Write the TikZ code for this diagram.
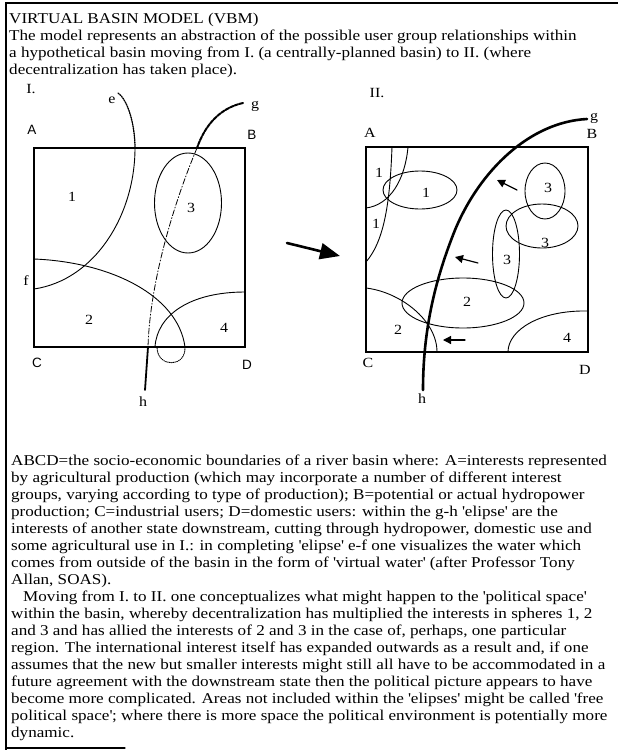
\documentclass[tikz,border=0pt]{standalone}
\usepackage{fontspec}
\setmainfont{Liberation Serif}[FakeStretch=1.14]
\newfontfamily\lblsans{Liberation Sans}
\usetikzlibrary{arrows.meta,shapes.geometric,positioning}
\newcommand{\qt}{\textquotesingle}

\begin{document}
\begin{tikzpicture}[x=1pt,y=-1pt,line cap=round,
    basin/.style={draw,line width=1.2pt,inner sep=0pt,outer sep=0pt},
    sphere/.style={draw,ellipse,line width=0.9pt,inner sep=0pt},
    boundary/.style={line width=0.9pt},
    river/.style={line width=2.6pt},
    shift arrow/.style={line width=1.2pt,-{Triangle[length=8pt,width=8pt]}},
    move arrow/.style={line width=2.6pt,-{Triangle[length=20pt,width=16pt]}},
    corner/.style={font=\lblsans\fontsize{13.5}{13.5}\selectfont},
    serif corner/.style={font=\fontsize{14}{14}\selectfont},
    number/.style={font=\fontsize{14}{14}\selectfont},
    body/.style={align=left,inner sep=0pt,font=\fontsize{15}{17}\selectfont}]

\useasboundingbox (0,0) rectangle (618,750);

% frame of the page
\draw[line width=1.2pt] (6,750) -- (6,3) -- (618,3);
\draw[line width=1.2pt] (6,748) -- (125,748);

\node[body,anchor=north west] (heading) at (9,13) {VIRTUAL BASIN MODEL (VBM)\\
The model represents an abstraction of the possible user group relationships within\\
a hypothetical basin moving from I. (a centrally-planned basin) to II. (where\\
decentralization has taken place).};

%%% basin I.
\node[number] (stageI) at (31,89) {I.};
\node[basin,minimum width=211pt,minimum height=199pt] (basinI) at (139.5,247.5) {};
\node[corner] (A1) at (32,130) {A};
\node[corner] (B1) at (252,135) {B};
\node[corner] (C1) at (37,363) {C};
\node[corner] (D1) at (247,365) {D};

% e-f
\draw[line width=1.3pt,densely dotted] (118,93) .. controls (128,100) and (135,125) .. (135,148);
\draw[boundary] (135,148) .. controls (135,215) and (95,280) .. (34,289);
\node[number] (e1) at (112,100) {e};
\node[number] (f1) at (26,281) {f};

% spheres 2, 3, 4
\draw[boundary] (34,259) .. controls (110,262) and (178,295) .. (185,347);
\draw[boundary,densely dotted] (185,347) .. controls (186,368) and (157,368) .. (157,347);
\draw[boundary] (245,292) .. controls (190,292) and (157,315) .. (155,347);
\node[sphere,minimum width=67pt,minimum height=100pt] (sphere3) at (188,203) {};

\node[number] (n1) at (72,197) {1};
\node[number] (n3) at (191,208) {3};
\node[number] (n2) at (89,320) {2};
\node[number] (n4) at (224,328) {4};

% g-h
\draw[line width=2pt,dash pattern=on 4pt off 1pt] (243,103) .. controls (220,108) and (205,125) .. (197,148);
\draw[line width=0.8pt,dash pattern=on 6pt off 2pt on 1pt off 2pt] (197,148) .. controls (175,200) and (150,280) .. (148,347);
\draw[line width=1.8pt] (148,347) -- (145,390);
\node[number] (g1) at (255,106) {g};
\node[number] (h1) at (143,402) {h};

%%% move from I. to II.
\coordinate (movetail) at (287,243);
\coordinate (movetip) at (340,256);
\draw[move arrow] (movetail) -- (movetip);

%%% basin II.
\node[number] (stageII) at (377,93) {II.};
\node[basin,minimum width=222pt,minimum height=205pt] (basinII) at (477,249.5) {};
\node[serif corner] (A2) at (370,133) {A};
\node[serif corner] (B2) at (592,134) {B};
\node[serif corner] (C2) at (368,363) {C};
\node[serif corner] (D2) at (585,370) {D};

% spheres 1
\draw[boundary] (392,147) .. controls (390,200) and (385,240) .. (366,262);
\draw[boundary] (408,147) .. controls (405,180) and (390,205) .. (366,208);
\node[sphere,minimum width=74pt,minimum height=38pt] (sphere1) at (420,190) {};
\node[number] (m1a) at (379,173) {1};
\node[number] (m1b) at (376,224) {1};
\node[number] (m1c) at (426,193) {1};

% spheres 3
\node[sphere,minimum width=40pt,minimum height=56pt] (sphere3a) at (545,191) {};
\node[sphere,minimum width=72pt,minimum height=44pt] (sphere3b) at (542,226) {};
\node[sphere,minimum width=27pt,minimum height=88pt] (sphere3c) at (506,254) {};
\node[number] (m3a) at (548,188) {3};
\node[number] (m3b) at (545,243) {3};
\node[number] (m3c) at (507,260) {3};

% spheres 2 and 4
\node[sphere,minimum width=122pt,minimum height=50pt] (sphere2) at (463,303) {};
\draw[boundary] (366,288) .. controls (400,292) and (437,320) .. (437,352);
\draw[boundary] (588,311) .. controls (540,310) and (508,330) .. (508,352);
\node[number] (m2a) at (467,302) {2};
\node[number] (m2b) at (398,330) {2};
\node[number] (m4) at (567,338) {4};

% g-h widened
\draw[river] (587,119) .. controls (530,122) and (480,170) .. (455,230)
    .. controls (435,280) and (423,330) .. (423,390);
\node[number] (g2) at (594,118) {g};
\node[number] (h2) at (422,399) {h};

% shifting interests
\draw[shift arrow] (517,190) -- (497,180);
\draw[shift arrow] (478,263) -- (455,257);
\draw[shift arrow] (465,340) -- (443,340);

\node[body,anchor=north west] (notes) at (11,455) {ABCD=the socio-economic boundaries of a river basin where: A=interests represented\\
by agricultural production (which may incorporate a number of different interest\\
groups, varying according to type of production); B=potential or actual hydropower\\
production; C=industrial users; D=domestic users: within the g-h \qt elipse\qt{} are the\\
interests of another state downstream, cutting through hydropower, domestic use and\\
some agricultural use in I.: in completing \qt elipse\qt{} e-f one visualizes the water which\\
comes from outside of the basin in the form of \qt virtual water\qt{} (after Professor Tony\\
Allan, SOAS).\\
\hspace*{12pt}Moving from I. to II. one conceptualizes what might happen to the \qt political space\qt\\
within the basin, whereby decentralization has multiplied the interests in spheres 1, 2\\
and 3 and has allied the interests of 2 and 3 in the case of, perhaps, one particular\\
region. The international interest itself has expanded outwards as a result and, if one\\
assumes that the new but smaller interests might still all have to be accommodated in a\\
future agreement with the downstream state then the political picture appears to have\\
become more complicated. Areas not included within the \qt elipses\qt{} might be called \qt free\\
political space\qt; where there is more space the political environment is potentially more\\
dynamic.};

\end{tikzpicture}
\end{document}
